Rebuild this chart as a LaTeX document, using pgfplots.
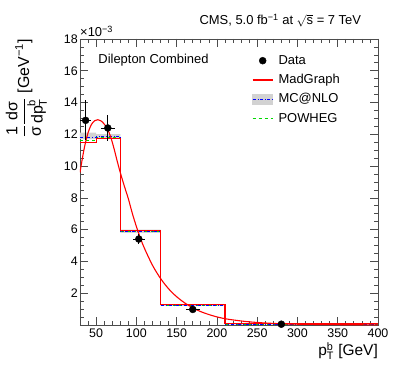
\documentclass[border=0pt]{standalone}
\usepackage{fontspec}
\setmainfont{Liberation Sans}
\usepackage{amsmath}
\usepackage{pgfplots}
\pgfplotsset{compat=1.18}
\begin{document}
\begin{tikzpicture}
\begin{axis}[
  scale only axis, width=298bp, height=286bp,
  clip mode=individual,
  xmin=30, xmax=400, ymin=0, ymax=18,
  xtick={50,100,...,400}, ytick={2,4,...,18},
  minor xtick={30,40,...,400}, minor ytick={0,0.5,...,18},
  major tick length=8bp, minor tick length=4bp,
  tick align=inside,
  axis line style={black!70, line width=0.8bp},
  every tick/.style={black!70, line width=0.7bp},
  tick label style={font=\fontsize{12.5}{14}\selectfont},
  yticklabel style={inner sep=2bp},
  /pgf/number format/assume math mode=true,
  xlabel={p$^{\text{b}}_{\text{T}}$ [GeV]},
  xlabel style={at={(axis description cs:1,0)}, anchor=north east, yshift=-17bp, inner sep=0pt, font=\fontsize{15.5}{17}\selectfont},
  ylabel={$\dfrac{\text{1}}{\text{σ}}\dfrac{\text{dσ}}{\text{dp}^{\text{b}}_{\text{T}}}$ [GeV\textsuperscript{−1}]},
  ylabel style={at={(axis description cs:-0.18,1)}, anchor=east, inner sep=0pt, font=\fontsize{16}{18}\selectfont},
  legend style={at={(axis description cs:0.577,0.9476)}, anchor=north west, draw=none, fill=none, inner sep=0pt,
    font=\fontsize{13}{15}\selectfont, row sep=6.3bp,
    nodes={inner sep=0pt, text height=10bp, text depth=3bp},
    /tikz/every odd column/.append style={column sep=5.3bp}},
  legend cell align=left,
  legend image code/.code={\draw[mark repeat=2,mark phase=2,#1] plot coordinates {(0bp,0bp) (10bp,0bp) (20bp,0bp)};},
]
% MC@NLO uncertainty band
\addplot[fill=gray!35, draw=none, forget plot] coordinates {
 (30,12.1)(50,12.1)(50,12.02)(80,12.02)(80,6.0)(130,6.0)(130,1.32)(210,1.32)(210,0.08)(400,0.08)
 (400,0.03)(210,0.03)(210,1.2)(130,1.2)(130,5.8)(80,5.8)(80,11.72)(50,11.72)(50,11.7)(30,11.7)} -- cycle;
% POWHEG
\addplot[green!85!black, dashed, line width=0.9bp, const plot, forget plot] coordinates {
 (30,11.63)(50,11.8)(80,5.88)(130,1.24)(210,0.05)(400,0.05)};
% MC@NLO
\addplot[blue, dash dot, line width=0.9bp, const plot, forget plot] coordinates {
 (30,11.82)(50,11.86)(80,5.9)(130,1.25)(210,0.05)(400,0.05)};
% MadGraph histogram
\addplot[red, line width=1.1bp, const plot, forget plot] coordinates {
 (30,11.48)(50,11.76)(80,5.95)(130,1.30)(210,0.07)(400,0.07)};
% MadGraph smooth curve
\addplot[red, line width=1.1bp, smooth, tension=0.55, forget plot] coordinates {
 (30,9.6)(33,10.5)(36,11.3)(40,12.1)(44,12.6)(48,12.85)(52,12.92)(56,12.85)(60,12.65)(64,12.35)
 (68,11.85)(72,11.15)(76,10.35)(80,9.6)(85,8.75)(90,7.95)(95,7.02)(100,6.2)(105,5.47)(110,4.83)
 (120,3.76)(130,2.93)(140,2.28)(150,1.78)(160,1.39)(170,1.08)(180,0.84)(195,0.58)
 (212,0.38)(240,0.2)(270,0.1)(300,0.05)(350,0.02)(400,0.01)};
% Data
\addplot[black, only marks, mark=*, mark size=3.5bp, forget plot,
  error bars/.cd, x dir=both, x explicit, y dir=both, y explicit, error mark=none,
  error bar style={black, line width=0.6bp}] coordinates {
 (37,12.88) +- (7,1.25)
 (64.5,12.4) +- (8.5,0.8)
 (103,5.41) +- (7.5,0.3)
 (170,0.98) +- (9,0.12)
 (280,0.05) +- (0,0.02)};
\addlegendimage{black, only marks, mark=*, mark size=3.5bp}
\addlegendentry{Data}
\addlegendimage{red, line width=1.1bp}
\addlegendentry{MadGraph}
\addlegendimage{legend image code/.code={\fill[gray!35] (0bp,-5bp) rectangle (20bp,5bp); \draw[blue, dash dot, line width=0.9bp] (0bp,0bp) -- (20bp,0bp);}}
\addlegendentry{MC@NLO}
\addlegendimage{green!85!black, dashed, line width=0.9bp}
\addlegendentry{POWHEG}
\node[anchor=base east, font=\fontsize{13}{15}\selectfont] at (axis description cs:0.955,1.049) {CMS, 5.0 fb\textsuperscript{−1} at $\sqrt{\text{s}}$ = 7 TeV};
\node[anchor=base west, font=\fontsize{13}{15}\selectfont] at (axis description cs:0.05,0.916) {Dilepton Combined};
\node[anchor=base west, inner sep=0pt, font=\fontsize{13}{15}\selectfont] at (axis description cs:0,1.007) {×10\textsuperscript{−3}};
\end{axis}
\path (current axis.south west) ++(-80bp,-58bp) rectangle ++(399bp,383bp);
\end{tikzpicture}
\end{document}
